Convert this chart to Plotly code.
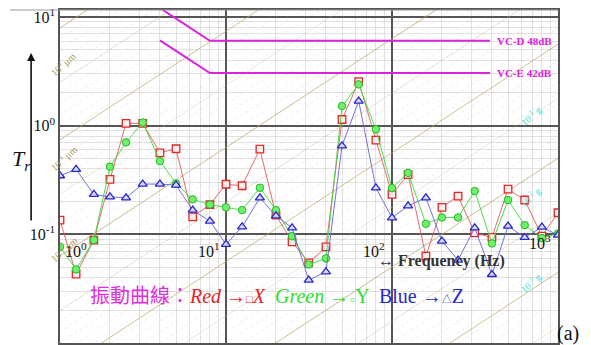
import numpy as np
import plotly.graph_objects as go

# ---------------- data ----------------
freq = [1, 1.25, 1.6, 2, 2.5, 3.15, 4, 5, 6.3, 8, 10, 12.5, 16, 20, 25, 31.5,
        40, 50, 63, 80, 100, 125, 160, 200, 250, 315, 400, 500, 630, 800, 1000]
red_x = [0.135, 0.043, 0.0885, 0.32, 1.05, 1.05, 0.563, 0.613, 0.145, 0.188, 0.289,
         0.28, 0.609, 0.150, 0.0853, 0.0547, 0.0767, 1.14, 2.54, 0.737, 0.233,
         0.355, 0.063, 0.177, 0.225, 0.103, 0.0936, 0.261, 0.207, 0.0962, 0.158]
green_y = [0.0767, 0.0475, 0.0885, 0.419, 0.702, 1.07, 0.472, 0.294, 0.21, 0.188, 0.177,
           0.167, 0.268, 0.167, 0.0962, 0.0528, 0.060, 1.515, 2.40, 0.925, 0.266,
           0.368, 0.125, 0.143, 0.143, 0.25, 0.0825, 0.207, 0.1215, 0.0923, 0.102]
blue_z = [0.346, 0.396, 0.233, 0.2215, 0.217, 0.29, 0.29, 0.284, 0.167, 0.1323, 0.081,
          0.117, 0.217, 0.148, 0.1148, 0.0379, 0.0452, 0.653, 1.685, 0.268, 0.142,
          0.183, 0.217, 0.0866, 0.0579, 0.1148, 0.0427, 0.119, 0.0936, 0.1164, 0.0984]

vc_freq = [4, 8, 390]
vc_d = [12.1, 6.05, 6.05]
vc_e = [6.1, 3.05, 3.05]
vc_names = ["VC-D 48dB", "VC-E 42dB"]

y_tickvals = [0.01, 0.1, 1, 10]
y_ticktext = ["10<sup>-2</sup>", "10<sup>-1</sup>", "10<sup>0</sup>", "10<sup>1</sup>"]
x_labels = [1, 10, 100, 1000]
x_label_text = ["10<sup>0</sup>", "10<sup>1</sup>", "10<sup>2</sup>", "10<sup>3</sup>"]

# background displacement lines (log10 T at f = 1 Hz)
disp_offsets = [0.9, -0.13, -1.2, -2.25, -3.3, -4.35]
disp_labels = ["10<sup>0</sup> μm", "10<sup>-1</sup> μm", "10<sup>-2</sup> μm"]
acc_labels = ["10<sup>-1</sup> g", "10<sup>-2</sup> g", "10<sup>-3</sup> g"]

SERIF = "Liberation Serif, Times New Roman, serif"

fig = go.Figure()

# ---- background diagonal texture ----
fmin, fmax = 1.0, 1000.0
def diag(offsets):
    xs, ys = [], []
    for o in offsets:
        xs += [fmin, fmax, None]
        ys += [10 ** o * fmin, 10 ** o * fmax, None]
    return xs, ys

fine = [o for o in np.arange(1.1, -5.2, -0.1)]
xs, ys = diag(fine)
fig.add_trace(go.Scatter(x=xs, y=ys, mode="lines", hoverinfo="skip", showlegend=False,
                         line=dict(color="rgba(150,150,150,0.25)", width=0.7, dash="dot")))
half = [o - 0.5 for o in disp_offsets]
xs, ys = diag(half)
fig.add_trace(go.Scatter(x=xs, y=ys, mode="lines", hoverinfo="skip", showlegend=False,
                         line=dict(color="rgba(200,185,140,0.45)", width=0.8)))
xs, ys = diag(disp_offsets)
fig.add_trace(go.Scatter(x=xs, y=ys, mode="lines", hoverinfo="skip", showlegend=False,
                         line=dict(color="rgba(190,170,115,0.75)", width=1)))

# ---- VC criteria ----
for vals in (vc_d, vc_e):
    fig.add_trace(go.Scatter(x=vc_freq, y=vals, mode="lines", showlegend=False,
                             line=dict(color="#dd22dd", width=2)))

# ---- data ----
fig.add_trace(go.Scatter(x=freq, y=red_x, mode="lines+markers", showlegend=False,
                         line=dict(color="rgba(225,90,90,0.9)", width=1),
                         marker=dict(symbol="square", size=7.5, color="rgba(255,235,235,1)",
                                     line=dict(color="#e02828", width=1.3))))
fig.add_trace(go.Scatter(x=freq, y=green_y, mode="lines+markers", showlegend=False,
                         line=dict(color="rgba(60,215,60,0.9)", width=1),
                         marker=dict(symbol="circle", size=7.5, color="#70ee70",
                                     line=dict(color="#22bb22", width=1))))
fig.add_trace(go.Scatter(x=freq, y=blue_z, mode="lines+markers", showlegend=False,
                         line=dict(color="rgba(100,100,220,0.9)", width=1),
                         marker=dict(symbol="triangle-up", size=8, color="#d8d8ff",
                                     line=dict(color="#2828c8", width=1.3))))

ann = []
# x tick labels drawn inside the plot
shifts = [3, -4, -5, -5]
anchors = ["left", "right", "right", "right"]
ylev = [-1.146, -1.146, -1.146, -1.072]
for v, t, s, a, yl in zip(x_labels, x_label_text, shifts, anchors, ylev):
    ann.append(dict(x=np.log10(v), y=yl, xref="x", yref="y", text=t, showarrow=False,
                    xanchor=a, yanchor="middle", xshift=s,
                    font=dict(family=SERIF, size=16, color="#111")))
# VC labels
for vals, name in zip((vc_d, vc_e), vc_names):
    ann.append(dict(x=3, y=np.log10(vals[-1]), xref="x", yref="y", text="<b>" + name + "</b>",
                    showarrow=False, xanchor="right", yanchor="middle", xshift=-4,
                    font=dict(family=SERIF, size=11, color="#dd22dd")))
# displacement labels (left)
for lab, yp in zip(disp_labels, [0.89, 0.555, 0.228]):
    ann.append(dict(x=-0.03, y=yp, xref="paper", yref="paper", text=lab, showarrow=False,
                    textangle=-42, font=dict(family=SERIF, size=10, color="#a89860")))
# acceleration labels (right)
for lab, yp in zip(acc_labels, [0.727, 0.437, 0.135]):
    ann.append(dict(x=0.975, y=yp, xref="paper", yref="paper", text=lab, showarrow=False,
                    textangle=-42, font=dict(family=SERIF, size=10, color="#44dddd")))
# T_r label and arrow
ann.append(dict(x=-0.1, y=0.55, xref="paper", yref="paper",
                text="<i>T</i><sub><i>r</i></sub>", showarrow=False,
                font=dict(family=SERIF, size=22, color="#111")))
ann.append(dict(x=-0.058, y=0.871, xref="paper", yref="paper", text="", showarrow=True,
                ax=0, ay=169, arrowhead=2, arrowsize=1, arrowwidth=1.6, arrowcolor="#111"))
# frequency label
ann.append(dict(x=0.634, y=0.213, xref="paper", yref="paper", xanchor="left",
                text="<b>↔ Frequency (Hz)</b>", showarrow=False,
                font=dict(family=SERIF, size=16, color="#333")))
# legend-like caption
cap = ("<span style='color:#e030e0'>振動曲線：</span>"
       "<span style='color:#e02828'><i>Red</i> →<span style='font-size:11px'>□</span><i>X</i></span>  "
       "<span style='color:#30dd30'><i>Green</i> →<span style='font-size:10px'>○</span>Y</span>  "
       "<span style='color:#2828c8'>Blue →<span style='font-size:10px'>△</span>Z</span>")
ann.append(dict(x=0.056, y=0.141, xref="paper", yref="paper", xanchor="left", yanchor="middle",
                text=cap, showarrow=False,
                font=dict(family="Liberation Serif, Noto Sans CJK TC, serif", size=20)))
# (a)
ann.append(dict(x=0.993, y=0.03, xref="paper", yref="paper", xanchor="left", yanchor="middle",
                text="(a)", showarrow=False, font=dict(family=SERIF, size=20, color="#111")))

minor_x = [m * 10 ** e for e in range(0, 3) for m in range(2, 10)]
minor_y = [m * 10 ** e for e in range(-2, 1) for m in range(2, 10)]

fig.update_layout(
    width=591, height=345,
    margin=dict(l=60, r=33, t=10, b=2),
    paper_bgcolor="white", plot_bgcolor="white",
    annotations=ann,
    shapes=[dict(type="line", xref="paper", yref="paper", x0=-0.1, x1=1.0, y0=1, y1=1,
                 line=dict(color="#999", width=1))],
)
fig.update_xaxes(type="log", range=[0, 3], showticklabels=False, ticks="",
                 showgrid=True, gridcolor="#555", gridwidth=1.6, tickvals=x_labels,
                 minor=dict(tickvals=minor_x, showgrid=True, ticks="",
                            gridcolor="rgba(190,190,190,0.45)", gridwidth=0.6),
                 showline=True, mirror=True, linecolor="#555", linewidth=1.6, zeroline=False)
fig.update_yaxes(type="log", range=[-2, 1.0645], tickvals=y_tickvals, ticktext=y_ticktext,
                 ticks="", showgrid=True, gridcolor="#555", gridwidth=1.6,
                 minor=dict(tickvals=minor_y, showgrid=True, ticks="",
                            gridcolor="rgba(190,190,190,0.45)", gridwidth=0.6),
                 tickfont=dict(family=SERIF, size=16, color="#111"),
                 showline=True, mirror=True, linecolor="#555", linewidth=1.6, zeroline=False)

fig.write_html("out.html")
